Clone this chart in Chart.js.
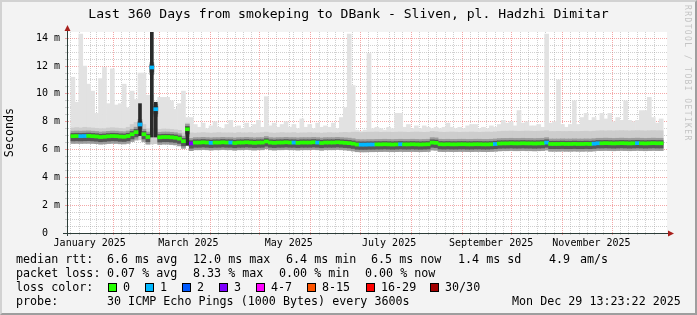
<!DOCTYPE html>
<html>
<head>
<meta charset="utf-8">
<title>smokeping - DBank Sliven</title>
<script src="https://cdn.jsdelivr.net/npm/chart.js@4.4.1/dist/chart.umd.min.js"></script>
<style>
  html, body { margin: 0; padding: 0; background: #f3f3f3; }
  #graph { position: relative; width: 697px; height: 315px; overflow: hidden;
           font-family: "DejaVu Sans Mono", monospace; color: #000; }
  #graph canvas { position: absolute; left: 0; top: 0; }
  #title { position: absolute; left: 0; top: 6px; width: 697px; text-align: center;
           font-size: 13.1px; line-height: 16px; white-space: pre; }
  .t { position: absolute; font-size: 11.7px; line-height: 14px; white-space: pre; }
  .box { position: absolute; width: 7px; height: 7px; border: 1px solid #000; }
  #watermark { position: absolute; left: 683px; top: 5px; writing-mode: vertical-rl;
               font-size: 8px; letter-spacing: 1.4px; color: #c4c4c4; white-space: pre; }
  #frame { position: absolute; left: 0; top: 0; width: 697px; height: 315px; box-sizing: border-box;
           border-left: 2px solid #d2d2d2; border-top: 2px solid #d2d2d2;
           border-right: 2px solid #9e9e9e; border-bottom: 2px solid #9e9e9e; pointer-events: none; }
</style>
</head>
<body>
<div id="graph">
  <canvas id="rttChart"></canvas>
  <div id="title">Last 360 Days from smokeping to DBank - Sliven, pl. Hadzhi Dimitar</div>
  <div id="watermark">RRDTOOL / TOBI OETIKER</div>
  <div id="legend"></div>
  <div id="frame"></div>
</div>
<script>
// 150 bins of 2.4 days, from Jan 3 2025 13:23:22 to Dec 29 2025 13:23:22
const binDays = 2.4;
const totalDays = 360;

// median rtt per bin (ms)
const median = [
  6.96, 6.97, 6.96, 6.97, 6.98, 6.96, 6.94, 6.90, 6.92, 6.95,
  6.97, 6.96, 6.93, 6.92, 6.97, 7.10, 7.25, 7.80, 7.10, 6.90,
  11.9, 8.90, 6.88, 6.90, 6.90, 6.88, 6.85, 6.78, 6.60, 7.46,
  6.44, 6.50, 6.50, 6.52, 6.50, 6.48, 6.50, 6.50, 6.52, 6.50,
  6.50, 6.47, 6.50, 6.50, 6.52, 6.50, 6.48, 6.50, 6.50, 6.58,
  6.50, 6.48, 6.50, 6.50, 6.52, 6.50, 6.50, 6.48, 6.50, 6.50,
  6.50, 6.52, 6.50, 6.47, 6.50, 6.50, 6.50, 6.52, 6.50, 6.48,
  6.46, 6.42, 6.36, 6.35, 6.35, 6.36, 6.36, 6.37, 6.37, 6.38,
  6.37, 6.36, 6.37, 6.38, 6.37, 6.37, 6.38, 6.37, 6.36, 6.37,
  6.38, 6.50, 6.48, 6.38, 6.37, 6.38, 6.37, 6.37, 6.38, 6.38,
  6.37, 6.37, 6.38, 6.38, 6.37, 6.37, 6.38, 6.40, 6.43, 6.44,
  6.44, 6.45, 6.44, 6.44, 6.45, 6.44, 6.44, 6.43, 6.44, 6.45,
  6.50, 6.40, 6.40, 6.40, 6.41, 6.40, 6.40, 6.41, 6.40, 6.40,
  6.41, 6.40, 6.42, 6.45, 6.45, 6.46, 6.45, 6.44, 6.45, 6.46,
  6.45, 6.44, 6.45, 6.46, 6.45, 6.44, 6.45, 6.46, 6.45, 6.45
];

// bottom of the smoke (fastest pings)
const smokeLow = [
  6.45, 6.44, 6.46, 6.45, 6.43, 6.45, 6.46, 6.44, 6.42, 6.43,
  6.45, 6.46, 6.45, 6.43, 6.45, 6.58, 6.66, 6.70, 6.55, 6.42,
  6.40, 6.42, 6.40, 6.42, 6.42, 6.40, 6.38, 6.32, 6.15, 6.30,
  5.98, 6.00, 6.02, 6.03, 6.00, 5.98, 6.00, 6.02, 6.03, 6.00,
  6.00, 5.98, 6.00, 6.02, 6.03, 6.00, 5.98, 6.00, 6.01, 6.05,
  6.00, 5.98, 6.00, 6.01, 6.03, 6.00, 6.00, 5.98, 6.00, 6.01,
  6.00, 6.03, 6.00, 5.97, 6.00, 6.00, 6.01, 6.03, 6.00, 5.99,
  5.96, 5.90, 5.85, 5.84, 5.84, 5.85, 5.85, 5.86, 5.86, 5.87,
  5.86, 5.85, 5.86, 5.87, 5.86, 5.86, 5.87, 5.86, 5.85, 5.86,
  5.87, 5.95, 5.93, 5.87, 5.86, 5.87, 5.86, 5.86, 5.87, 5.87,
  5.86, 5.86, 5.87, 5.87, 5.86, 5.86, 5.87, 5.88, 5.90, 5.91,
  5.91, 5.92, 5.91, 5.91, 5.92, 5.91, 5.91, 5.90, 5.91, 5.92,
  5.95, 5.88, 5.88, 5.88, 5.89, 5.88, 5.88, 5.89, 5.88, 5.88,
  5.89, 5.88, 5.90, 5.92, 5.92, 5.93, 5.92, 5.91, 5.92, 5.93,
  5.92, 5.91, 5.92, 5.93, 5.92, 5.91, 5.92, 5.93, 5.92, 5.92
];

// top of the dense smoke
const smokeHigh = [
  7.55, 7.58, 7.55, 7.60, 7.57, 7.55, 7.52, 7.50, 7.50, 7.55,
  7.57, 7.55, 7.52, 7.50, 7.60, 7.80, 7.95, 8.00, 7.80, 7.50,
  7.50, 7.50, 7.45, 7.48, 7.47, 7.45, 7.42, 7.38, 7.20, 7.90,
  7.20, 7.18, 7.20, 7.22, 7.20, 7.18, 7.20, 7.22, 7.20, 7.20,
  7.20, 7.18, 7.22, 7.20, 7.20, 7.22, 7.18, 7.20, 7.22, 7.25,
  7.20, 7.18, 7.20, 7.22, 7.20, 7.20, 7.22, 7.18, 7.20, 7.20,
  7.22, 7.20, 7.20, 7.18, 7.20, 7.22, 7.20, 7.20, 7.22, 7.24,
  7.22, 7.25, 7.25, 7.22, 7.24, 7.25, 7.25, 7.26, 7.24, 7.25,
  7.25, 7.24, 7.25, 7.26, 7.25, 7.24, 7.25, 7.26, 7.25, 7.24,
  7.25, 7.30, 7.28, 7.25, 7.24, 7.25, 7.26, 7.25, 7.24, 7.25,
  7.25, 7.26, 7.25, 7.24, 7.25, 7.26, 7.25, 7.27, 7.30, 7.32,
  7.32, 7.33, 7.32, 7.31, 7.32, 7.33, 7.32, 7.31, 7.32, 7.33,
  7.35, 7.30, 7.30, 7.31, 7.30, 7.30, 7.31, 7.30, 7.30, 7.31,
  7.32, 7.30, 7.32, 7.34, 7.35, 7.34, 7.35, 7.34, 7.35, 7.36,
  7.35, 7.34, 7.35, 7.36, 7.35, 7.34, 7.35, 7.36, 7.35, 7.35
];

// slowest ping per bin
const smokeMax = [
  11.2, 9.40, 14.3, 12.0, 10.7, 10.2, 8.60, 11.1, 11.9, 9.30,
  11.8, 9.20, 9.30, 10.7, 9.00, 10.2, 9.60, 11.5, 11.5, 9.90,
  9.90, 9.00, 9.75, 9.75, 9.75, 9.50, 8.90, 9.30, 10.2, 8.30,
  8.30, 7.80, 7.60, 7.90, 7.50, 7.70, 8.00, 7.60, 7.50, 7.80,
  8.10, 7.60, 7.70, 7.50, 7.90, 7.60, 7.80, 8.10, 7.60, 9.80,
  7.70, 7.90, 7.60, 7.80, 8.00, 7.60, 7.80, 7.50, 8.20, 7.60,
  7.80, 7.50, 7.90, 7.60, 7.70, 7.60, 7.90, 7.50, 8.30, 9.00,
  14.3, 10.6, 7.40, 7.30, 7.40, 12.9, 7.50, 7.60, 7.50, 7.40,
  7.60, 7.50, 8.60, 8.60, 7.60, 7.80, 7.50, 7.70, 7.50, 7.70,
  7.60, 7.50, 7.60, 7.50, 7.60, 7.90, 7.60, 7.50, 7.60, 7.50,
  7.70, 7.80, 7.80, 7.50, 7.60, 7.50, 7.70, 7.60, 7.80, 8.10,
  7.90, 8.00, 7.70, 8.80, 7.90, 8.00, 7.70, 7.70, 7.80, 7.60,
  14.3, 7.90, 8.00, 11.0, 7.80, 7.60, 7.80, 9.50, 7.80, 8.30,
  8.60, 8.10, 8.30, 8.10, 8.60, 8.20, 8.60, 8.00, 8.30, 8.10,
  9.50, 8.10, 8.00, 8.10, 8.80, 8.80, 9.75, 8.30, 7.90, 8.20
];

// bins where all pings were spread wide: [bin, low, high]
const darkSpikes = [[17, 7.0, 9.3], [20, 6.9, 14.6], [21, 6.9, 9.4], [29, 6.3, 7.6]];

// bins with packet loss: [bin, lost pings]
const lossBins = [[2, 1], [3, 1], [17, 1], [20, 1], [21, 1], [30, 3], [35, 1], [40, 1], [56, 1], [62, 1],
                  [73, 1], [74, 1], [75, 1], [76, 1], [83, 1], [107, 1], [120, 1], [132, 1], [133, 1], [143, 1]];

const lossColors = ['#26ff00', '#00b8ff', '#0059ff', '#7e00ff', '#ff00ff', '#ff5500', '#ff0000', '#a10000'];
const lossLabels = ['0', '1', '2', '3', '4-7', '8-15', '16-29', '30/30'];

const monthNames = ['January', 'February', 'March', 'April', 'May', 'June', 'July',
                    'August', 'September', 'October', 'November', 'December'];
const labelMonths = [0, 2, 4, 6, 8, 10];
const yTickValues = [0, 0.5, 1, 1.5, 2, 2.5, 3, 3.5, 4, 4.5, 5, 5.5, 6, 6.5, 7,
                     7.5, 8, 8.5, 9, 9.5, 10, 10.5, 11, 11.5, 12, 12.5, 13, 13.5, 14];

const legendRows = [
  [252, [[16, 'median rtt:'], [107, '6.6 ms avg'], [193, '12.0 ms max'], [286, '6.4 ms min'],
         [371, '6.5 ms now'], [458, '1.4 ms sd'], [549, '4.9'], [580, 'am/s']]],
  [266, [[16, 'packet loss:'], [107, '0.07 % avg'], [193, '8.33 % max'], [279, '0.00 % min'], [365, '0.00 % now']]],
  [280, [[16, 'loss color:']]],
  [294, [[16, 'probe:'], [107, '30 ICMP Echo Pings (1000 Bytes) every 3600s'], [512, 'Mon Dec 29 13:23:22 2025']]]
];
const lossBoxX = [108, 145, 182, 219, 256, 307, 366, 430];

// ---- legend
const legend = document.getElementById('legend');
legendRows.forEach(function (row) {
  row[1].forEach(function (item) {
    const d = document.createElement('div');
    d.className = 't';
    d.style.left = item[0] + 'px';
    d.style.top = row[0] + 'px';
    d.textContent = item[1];
    legend.appendChild(d);
  });
});
lossLabels.forEach(function (lab, i) {
  const b = document.createElement('div');
  b.className = 'box';
  b.style.left = lossBoxX[i] + 'px';
  b.style.top = '283px';
  b.style.background = lossColors[i];
  legend.appendChild(b);
  const t = document.createElement('div');
  t.className = 't';
  t.style.left = (lossBoxX[i] + 15) + 'px';
  t.style.top = '280px';
  t.textContent = lab;
  legend.appendChild(t);
});

// ---- x ticks from the calendar
const startMs = Date.UTC(2025, 0, 3, 13, 23, 22);
function dayOf(y, m, d) { return (Date.UTC(y, m, d) - startMs) / 86400000; }
const xTicks = [];
for (let m = 0; m < 12; m++) {
  const s = dayOf(2025, m, 1), e = dayOf(2025, m + 1, 1);
  if (s >= 0 && s <= totalDays) xTicks.push({ v: s, kind: 'major' });
  for (let k = 1; k < 6; k++) {
    const v = s + k * (e - s) / 6;
    if (v >= 0 && v <= totalDays) xTicks.push({ v: v, kind: 'minor' });
  }
}
labelMonths.forEach(function (m) {
  xTicks.push({ v: dayOf(2025, m, m === 0 ? 15 : 16), kind: 'label', label: monthNames[m] + ' 2025' });
});
xTicks.sort(function (a, b) { return a.v - b.v; });

const lossOf = median.map(function () { return 0; });
lossBins.forEach(function (b) { lossOf[b[0]] = b[1]; });
function lossColor(n) {
  if (n <= 3) return lossColors[n];
  if (n <= 7) return lossColors[4];
  if (n <= 15) return lossColors[5];
  if (n <= 29) return lossColors[6];
  return lossColors[7];
}

const binX = function (i) { return i * binDays + binDays / 2; };
const band = function (lo, hi) { return median.map(function (v, i) { return { x: binX(i), y: [v + lo, v + hi] }; }); };

const MGRID = 'rgba(230, 60, 60, 0.45)';
const GRID = 'rgba(150, 150, 150, 0.45)';
const AXIS = '#2c3d38';

const smokeFrame = {
  id: 'smokeFrame',
  beforeDraw: function (chart) {
    const a = chart.chartArea, c = chart.ctx;
    c.save();
    c.fillStyle = '#ffffff';
    c.fillRect(a.left, a.top, a.right - a.left, a.bottom - a.top);
    c.restore();
  },
  afterDraw: function (chart) {
    const a = chart.chartArea, c = chart.ctx;
    c.save();
    c.strokeStyle = AXIS;
    c.lineWidth = 1;
    c.beginPath();
    c.moveTo(a.left - 4, a.bottom + 0.5); c.lineTo(a.right + 1, a.bottom + 0.5);
    c.moveTo(a.left + 0.5, a.bottom + 3); c.lineTo(a.left + 0.5, a.top - 1);
    c.stroke();
    c.fillStyle = '#a8201c';
    c.beginPath();
    c.moveTo(a.right + 1, a.bottom - 2.5); c.lineTo(a.right + 7, a.bottom + 0.5); c.lineTo(a.right + 1, a.bottom + 3.5);
    c.closePath(); c.fill();
    c.beginPath();
    c.moveTo(a.left - 2.5, a.top - 1); c.lineTo(a.left + 0.5, a.top - 7); c.lineTo(a.left + 3.5, a.top - 1);
    c.closePath(); c.fill();
    c.restore();
  }
};

Chart.defaults.font.family = '"DejaVu Sans Mono", monospace';
Chart.defaults.color = '#000';

// one bin = 600 px / 150 bins
const barBase = { type: 'bar', grouped: false, barThickness: 4, borderWidth: 0 };

new Chart(document.getElementById('rttChart'), {
  type: 'bar',
  data: {
    datasets: [
      Object.assign({}, barBase, {
        data: smokeMax.map(function (v, i) { return { x: binX(i), y: [smokeLow[i], v] }; }),
        backgroundColor: '#e2e2e2', order: 10
      }),
      Object.assign({}, barBase, {
        data: smokeHigh.map(function (v, i) { return { x: binX(i), y: [smokeLow[i], v] }; }),
        backgroundColor: '#cdcdcd', order: 9
      }),
      Object.assign({}, barBase, { data: band(-0.52, 0.36), backgroundColor: '#9c9c9c', order: 8 }),
      Object.assign({}, barBase, { data: band(-0.34, 0.2), backgroundColor: '#575757', order: 7 }),
      Object.assign({}, barBase, {
        data: darkSpikes.map(function (s) { return { x: binX(s[0]), y: [s[1], s[2]] }; }),
        backgroundColor: '#2a2a2a', order: 6, barThickness: 3
      }),
      Object.assign({}, barBase, {
        data: band(-0.11, 0.11),
        backgroundColor: function (ctx) { return lossColor(lossOf[ctx.dataIndex]); },
        order: 1
      })
    ]
  },
  options: {
    responsive: true,
    maintainAspectRatio: false,
    animation: false,
    events: [],
    layout: { padding: { left: 0, top: 32, right: 30, bottom: 66 } },
    plugins: { legend: { display: false }, tooltip: { enabled: false }, title: { display: false } },
    scales: {
      x: {
        type: 'linear', min: 0, max: totalDays,
        afterFit: function (s) { s.height = 16; },
        afterBuildTicks: function (s) { s.ticks = xTicks.map(function (t) { return { value: t.v }; }); },
        ticks: {
          autoSkip: false, maxRotation: 0, padding: 2,
          font: { size: 10 }, color: '#000',
          callback: function (v, i) { return xTicks[i] && xTicks[i].label ? xTicks[i].label : ''; }
        },
        grid: {
          tickLength: 2,
          color: function (ctx) {
            const t = xTicks[ctx.index];
            if (!t || t.kind === 'label') return 'rgba(0,0,0,0)';
            return t.kind === 'major' ? MGRID : GRID;
          }
        },
        border: { color: AXIS, dash: [1, 1] }
      },
      y: {
        type: 'linear', min: 0, max: 14.45,
        afterFit: function (s) { s.width = 67; },
        afterBuildTicks: function (s) { s.ticks = yTickValues.map(function (v) { return { value: v }; }); },
        ticks: {
          autoSkip: false, padding: 5, font: { size: 10 }, color: '#000',
          callback: function (v) {
            if (v % 2 !== 0) return '';
            return v === 0 ? '0  ' : v + ' m';
          }
        },
        grid: {
          tickLength: 2,
          color: function (ctx) { return ctx.tick && ctx.tick.value % 2 === 0 ? MGRID : GRID; }
        },
        border: { color: AXIS, dash: [1, 1] },
        title: { display: true, text: 'Seconds', font: { size: 11.7 }, color: '#000', padding: { top: 3, bottom: 0 } }
      }
    }
  },
  plugins: [smokeFrame]
});
</script>
</body>
</html>
